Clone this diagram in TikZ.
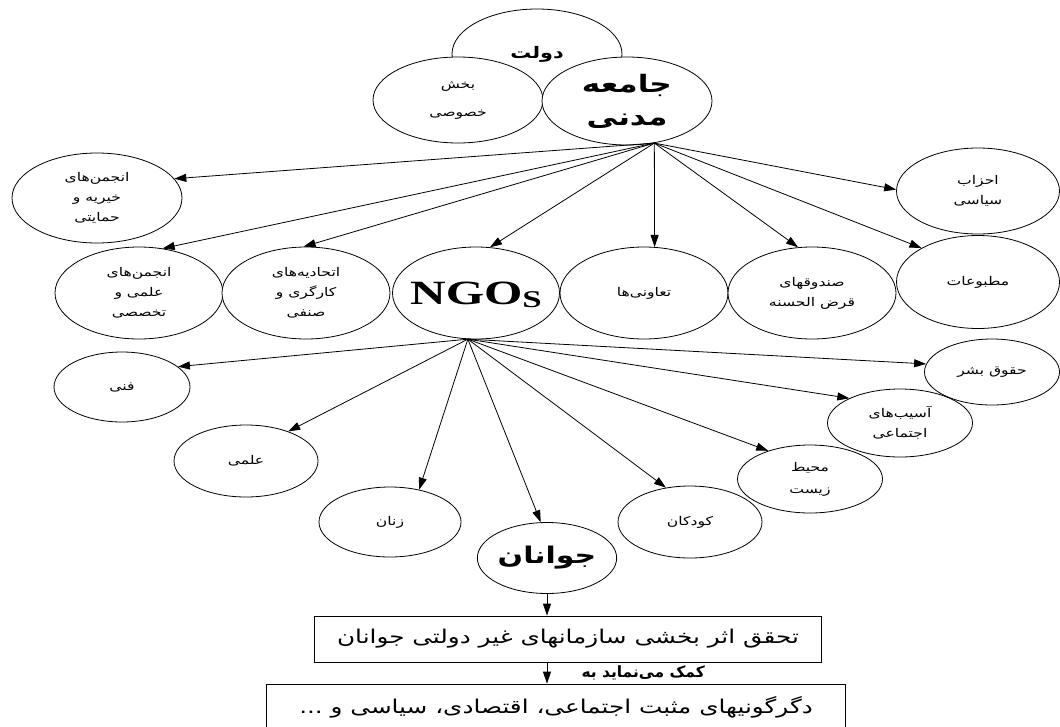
\documentclass[tikz,border=0pt]{standalone}
\usepackage{fontspec}
\usepackage{graphicx}
\usepackage{tikz}
\usetikzlibrary{shapes,arrows.meta,positioning}
\setmainfont{Liberation Serif}
\newfontfamily\fafont[Script=Arabic]{DejaVu Sans}
\TeXXeTstate=1
\newcommand{\fa}[1]{\scalebox{1.3}[1]{\fafont\beginR #1\endR}}

\begin{document}
\begin{tikzpicture}[x=1pt, y=-1pt,
    oval/.style={ellipse, draw, fill=white, line width=0.8pt, inner sep=0pt,
        align=center, font=\fontsize{12}{20}\selectfont},
    flow/.style={-{Triangle[length=12pt,width=8pt]}, line width=0.8pt},
    boxnode/.style={draw, fill=white, line width=0.8pt, inner sep=0pt,
        minimum height=46pt, font=\fontsize{19}{22}\selectfont}]

    \useasboundingbox (0,0) rectangle (1060,726);

    % The three sectors
    \node[oval, minimum width=170pt, minimum height=90pt,
        font=\bfseries\fontsize{16}{18}\selectfont] (dolat) at (537,54) {\fa{دولت}};
    \node[oval, minimum width=170pt, minimum height=86pt,
        font=\fontsize{12}{28}\selectfont] (khosusi) at (458,100) {\fa{بخش}\\\fa{خصوصی}};
    \node[oval, minimum width=170pt, minimum height=88pt,
        font=\bfseries\fontsize{24}{33}\selectfont] (madani) at (627,101) {\fa{جامعه}\\\fa{مدنی}};

    % Civil society branches
    \node[oval, minimum width=170pt, minimum height=90pt] (kheyrie) at (97,198)
        {\fa{انجمن‌های}\\\fa{خیریه و}\\\fa{حمایتی}};
    \node[oval, minimum width=163pt, minimum height=86pt] (ahzab) at (978,191)
        {\fa{احزاب}\\\fa{سیاسی}};
    \node[oval, minimum width=168pt, minimum height=92pt] (elmi) at (139,293)
        {\fa{انجمن‌های}\\\fa{علمی و}\\\fa{تخصصی}};
    \node[oval, minimum width=168pt, minimum height=92pt] (senfi) at (306,293)
        {\fa{اتحادیه‌های}\\\fa{کارگری و}\\\fa{صنفی}};
    \node[oval, minimum width=167pt, minimum height=92pt] (ngo) at (476,293)
        {\makebox[0pt]{\raisebox{-11pt}[0pt][0pt]{\scalebox{1.45}[1]{\bfseries\fontsize{34}{34}\selectfont
        NGO\raisebox{-3pt}{\fontsize{24}{24}\selectfont S}}}}};
    \node[oval, minimum width=168pt, minimum height=92pt] (taavoni) at (644,293)
        {\fa{تعاونی‌ها}};
    \node[oval, minimum width=168pt, minimum height=92pt] (sanduq) at (812,293)
        {\fa{صندوقهای}\\\fa{قرض الحسنه}};
    \node[oval, minimum width=163pt, minimum height=93pt] (matbuat) at (978,282)
        {\fa{مطبوعات}};

    % NGO fields
    \node[oval, minimum width=136pt, minimum height=70pt] (fanni) at (122,387) {\fa{فنی}};
    \node[oval, minimum width=144pt, minimum height=72pt] (ilmi) at (246,461) {\fa{علمی}};
    \node[oval, minimum width=142pt, minimum height=70pt] (zanan) at (390,522) {\fa{زنان}};
    \node[oval, minimum width=138pt, minimum height=71pt,
        font=\bfseries\fontsize{23}{28}\selectfont] (javanan) at (547,558) {\fa{جوانان}};
    \node[oval, minimum width=144pt, minimum height=72pt] (kudakan) at (690,522) {\fa{کودکان}};
    \node[oval, minimum width=145pt, minimum height=68pt, font=\fontsize{12}{22}\selectfont]
        (mohit) at (810,479) {\fa{محیط}\\\fa{زیست}};
    \node[oval, minimum width=145pt, minimum height=68pt] (asib) at (900,423)
        {\fa{آسیب‌های}\\\fa{اجتماعی}};
    \node[oval, minimum width=135pt, minimum height=66pt] (hoquq) at (992,372) {\fa{حقوق بشر}};

    % Fans of arrows
    \coordinate (hub) at (madani.-57);
    \foreach \t/\a in {kheyrie/14, elmi/62, senfi/93, ngo/73, taavoni/77,
        sanduq/107, matbuat/149, ahzab/179}
        \draw[flow] (hub) -- (\t.\a);

    \coordinate (ngohub) at (ngo.-100);
    \foreach \t/\a in {fanni/20, ilmi/35, zanan/48, javanan/100, kudakan/125,
        mohit/146, asib/154, hoquq/173}
        \draw[flow] (ngohub) -- (\t.\a);

    % Outcome boxes
    \node[boxnode, minimum width=507pt] (box1) at (568,639)
        {\fa{تحقق اثر بخشی سازمانهای غیر دولتی جوانان}};
    \node[boxnode, minimum width=579pt] (box2) at (556,707)
        {\fa{دگرگونیهای مثبت اجتماعی، اقتصادی، سیاسی و ...}};
    \draw[flow] (javanan.south) -- (javanan.south |- box1.north);
    \draw[flow] (box1.south -| javanan.south) -- (box2.north -| javanan.south);
    \node[font=\bfseries\fontsize{15.5}{18}\selectfont, anchor=west] (komak) at (578,673)
        {\fafont\beginR کمک می‌نماید به\endR};
\end{tikzpicture}
\end{document}
